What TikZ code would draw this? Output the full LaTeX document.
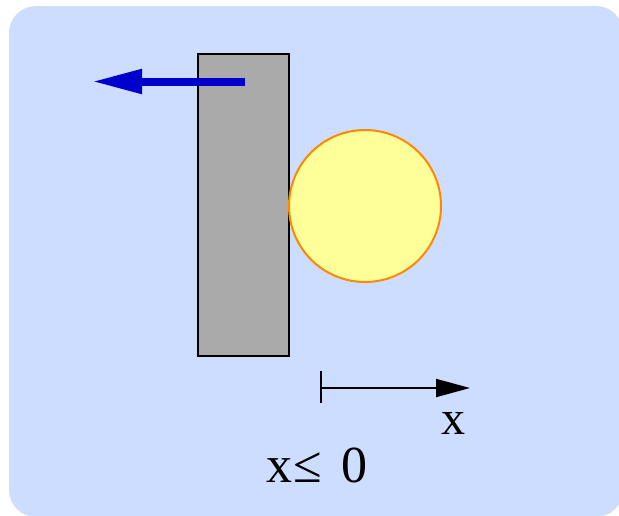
\documentclass[tikz,border=0pt]{standalone}
\usepackage{fontspec}
\setmainfont{Liberation Serif}
\usetikzlibrary{arrows.meta}
\definecolor{bgblue}{HTML}{CCDDFF}
\definecolor{wallgray}{HTML}{AAAAAA}
\definecolor{ballfill}{HTML}{FFFF99}
\definecolor{ballline}{HTML}{FF8800}
\definecolor{arrowblue}{HTML}{0000CC}
\tikzset{
  wall/.style={draw=black, fill=wallgray, line width=2pt, minimum width=91pt, minimum height=302pt, inner sep=0pt},
  ball/.style={circle, draw=ballline, fill=ballfill, line width=2pt, minimum size=152pt, inner sep=0pt},
  lbl/.style={font=\fontsize{48}{50}\selectfont, inner sep=0pt, anchor=base},
  biglbl/.style={font=\fontsize{52}{54}\selectfont, inner sep=0pt, anchor=base},
}
\begin{document}
\begin{tikzpicture}[x=1pt,y=-1pt]
\useasboundingbox (0,0) rectangle (619,515);
\fill[bgblue, rounded corners=27pt] (9,6) rectangle (623,517);
\node[wall] (w) at (243.5,205) {};
\node[ball] (b) at (365,206) {};
\coordinate (vs) at (245,81.5);
\coordinate (ve) at (92,81.5);
\draw[arrowblue, line width=8pt, -{Triangle[length=50pt,width=23pt]}] (vs) -- (ve);
\coordinate (as) at (321,388);
\coordinate (ae) at (470,388);
\coordinate (t1) at (321,371);
\coordinate (t2) at (321,403);
\draw[line width=2pt] (t1) -- (t2);
\draw[line width=2pt, -{Triangle[length=34pt,width=18pt]}] (as) -- (ae);
\node[lbl] (xl) at (453,434) {x};
\node[biglbl] (cond) at (317,482) {x\kern1pt≤\hspace{0.36em}0};
\end{tikzpicture}
\end{document}
